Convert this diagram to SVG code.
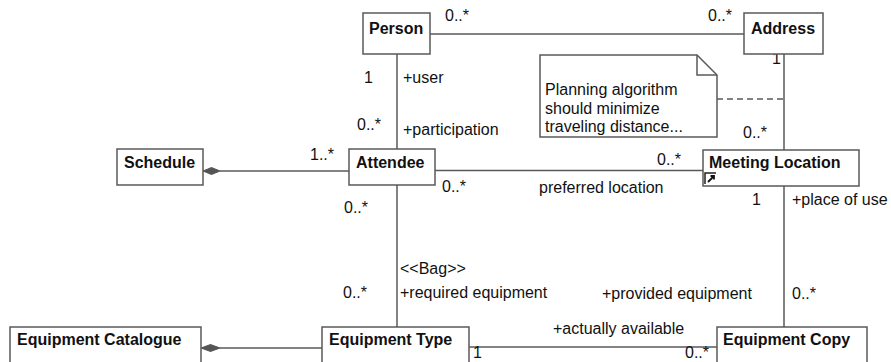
<svg xmlns="http://www.w3.org/2000/svg" width="891" height="362" viewBox="0 0 891 362">
<style>
.node rect{fill:#fff;stroke:#595959;stroke-width:1.5}
.t{font-family:"Liberation Sans",Arial,Helvetica,sans-serif;font-size:16px;fill:#111}
.b{font-weight:bold}
.edge{stroke:#595959;stroke-width:1.5;fill:none}
.dia{fill:#555;stroke:#555;stroke-width:1}
</style>
<rect width="891" height="362" fill="#fff"/>
<g id="connectors">
  <line class="edge" x1="430" y1="34" x2="744" y2="34"/>
  <line class="edge" x1="784" y1="54" x2="784" y2="150"/>
  <line class="edge" x1="717" y1="99" x2="784" y2="99" stroke-dasharray="6,4"/>
  <line class="edge" x1="397" y1="54" x2="397" y2="149"/>
  <line class="edge" x1="220" y1="171" x2="349" y2="171"/>
  <polygon class="dia" points="203,171 211.5,167.5 220,171 211.5,174.5"/>
  <line class="edge" x1="435" y1="170.5" x2="703" y2="170.5"/>
  <line class="edge" x1="397" y1="185" x2="397" y2="327"/>
  <line class="edge" x1="784" y1="186" x2="784" y2="327"/>
  <line class="edge" x1="220" y1="348" x2="322" y2="348"/>
  <polygon class="dia" points="201,348 210.5,344.5 220,348 210.5,351.5"/>
  <line class="edge" x1="469" y1="347" x2="717" y2="347"/>
  <text class="t" x="445" y="21">0..*</text>
  <text class="t" x="708" y="21">0..*</text>
  <text class="t" x="772" y="64">1</text>
  <text class="t" x="364" y="83">1</text>
  <text class="t" x="403" y="83">+user</text>
  <text class="t" x="357" y="130">0..*</text>
  <text class="t" x="403" y="135">+participation</text>
  <text class="t" x="310" y="160">1..*</text>
  <text class="t" x="743" y="138">0..*</text>
  <text class="t" x="657" y="165">0..*</text>
  <text class="t" x="442" y="192">0..*</text>
  <text class="t" x="539" y="193">preferred location</text>
  <text class="t" x="752" y="205">1</text>
  <text class="t" x="792" y="205">+place of use</text>
  <text class="t" x="344" y="213">0..*</text>
  <text class="t" x="400" y="274">&lt;&lt;Bag&gt;&gt;</text>
  <text class="t" x="343" y="298">0..*</text>
  <text class="t" x="400" y="298">+required equipment</text>
  <text class="t" x="602" y="299">+provided equipment</text>
  <text class="t" x="792" y="299">0..*</text>
  <text class="t" x="553" y="334">+actually available</text>
  <text class="t" x="473" y="358">1</text>
  <text class="t" x="685" y="358">0..*</text>
</g>
<g id="note">
  <path d="M540,55 H697 L717,75 V137 H540 Z" fill="#fff" stroke="#595959" stroke-width="1.5"/>
  <path d="M697,55 V75 H717" fill="none" stroke="#595959" stroke-width="1.5"/>
  <text class="t" x="545" y="95">Planning algorithm</text>
  <text class="t" x="545" y="113.5">should minimize</text>
  <text class="t" x="545" y="132">traveling distance...</text>
</g>
<g id="person" class="node">
  <rect x="363" y="13" width="67" height="41"/>
  <text class="t b" x="369" y="34">Person</text>
</g>
<g id="address" class="node">
  <rect x="744" y="13" width="79" height="41"/>
  <text class="t b" x="751" y="34">Address</text>
</g>
<g id="schedule" class="node">
  <rect x="117" y="149" width="86" height="36"/>
  <text class="t b" x="124" y="168">Schedule</text>
</g>
<g id="attendee" class="node">
  <rect x="349" y="149" width="86" height="36"/>
  <text class="t b" x="356" y="168">Attendee</text>
</g>
<g id="meeting-location" class="node">
  <rect x="703" y="150" width="156" height="36"/>
  <text class="t b" x="709" y="168">Meeting Location</text>
  <path d="M705,184 V173 H716" fill="none" stroke="#222" stroke-width="1.5"/>
  <path d="M708,182 L714,176 M710.5,176 H714 V179.5" fill="none" stroke="#111" stroke-width="1.8"/>
</g>
<g id="equipment-catalogue" class="node">
  <rect x="10" y="327" width="191" height="40"/>
  <text class="t b" x="17" y="345">Equipment Catalogue</text>
</g>
<g id="equipment-type" class="node">
  <rect x="322" y="327" width="147" height="40"/>
  <text class="t b" x="329" y="345">Equipment Type</text>
</g>
<g id="equipment-copy" class="node">
  <rect x="717" y="327" width="150" height="40"/>
  <text class="t b" x="723" y="345">Equipment Copy</text>
</g>
</svg>
